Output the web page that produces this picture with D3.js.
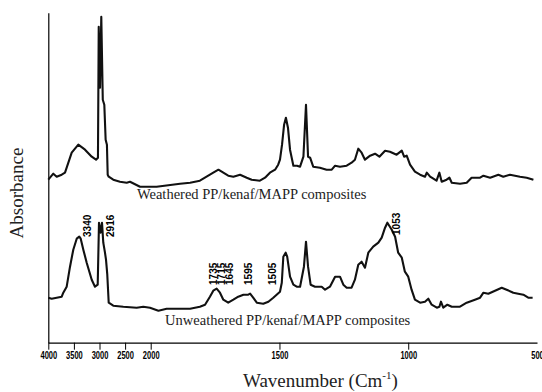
<!DOCTYPE html>
<html><head><meta charset="utf-8">
<script src="https://cdn.jsdelivr.net/npm/d3@7"></script>
<style>
body{margin:0;background:#fff;}
svg{display:block;}
</style></head>
<body>
<svg id="c" width="542" height="392"></svg>
<script>
// Weathered PP/kenaf/MAPP composites
const weatheredWn = [4000,3902,3836,3738,3674,3641,3543,3414,3283,3152,3068,3030,3015,2990,2965,2936,2906,2880,2855,2840,2820,2731,2600,2469,2404,2209,2000,1977,1886,1847,1809,1783,1757,1737,1718,1699,1679,1653,1627,1608,1576,1556,1537,1517,1505,1498,1490,1482,1475,1467,1459,1446,1432,1420,1407,1397,1389,1381,1369,1343,1317,1297,1284,1265,1239,1220,1207,1194,1181,1168,1148,1129,1112,1090,1071,1045,1025,1016,1006,993,974,954,935,928,915,890,879,870,851,840,831,799,773,754,721,708,682,650,631,605,566,540,514];
const weatheredAbs = [1.63,1.69,1.66,1.68,1.70,1.75,1.90,1.98,1.93,1.86,1.83,1.85,3.16,2.55,3.26,2.43,2.38,2.03,1.98,1.68,1.66,1.63,1.61,1.60,1.61,1.56,1.56,1.56,1.59,1.60,1.62,1.66,1.70,1.73,1.70,1.67,1.66,1.68,1.65,1.63,1.62,1.65,1.70,1.73,1.78,1.83,1.98,2.18,2.25,2.15,1.93,1.77,1.77,1.76,1.86,2.38,1.86,1.85,1.76,1.75,1.73,1.73,1.77,1.76,1.77,1.80,1.83,1.94,1.90,1.83,1.87,1.89,1.86,1.92,1.91,1.88,1.92,1.86,1.87,1.78,1.71,1.68,1.66,1.70,1.66,1.62,1.70,1.61,1.63,1.65,1.60,1.59,1.60,1.65,1.65,1.67,1.65,1.68,1.66,1.68,1.66,1.65,1.63];

// Unweathered PP/kenaf/MAPP composites
const unweatheredWn = [4000,3934,3836,3738,3707,3641,3576,3512,3445,3395,3367,3316,3250,3152,3088,3035,3010,2977,2951,2926,2893,2873,2848,2820,2731,2535,2274,2145,2014,1970,1938,1886,1847,1809,1789,1770,1757,1744,1731,1718,1699,1679,1660,1640,1621,1614,1602,1588,1563,1543,1524,1511,1498,1491,1485,1476,1470,1459,1446,1433,1420,1405,1397,1389,1379,1362,1336,1323,1304,1284,1265,1252,1239,1220,1207,1194,1181,1168,1155,1136,1116,1103,1090,1081,1064,1051,1039,1025,1013,1000,987,974,954,935,922,909,889,879,873,864,848,831,799,773,741,721,708,689,663,637,618,592,573,553,534,517];
const unweatheredAbs = [0.45,0.44,0.45,0.46,0.50,0.56,0.76,0.93,1.04,1.06,1.04,0.93,0.80,0.63,0.56,0.58,1.20,1.10,1.20,1.00,0.90,0.83,0.68,0.40,0.37,0.36,0.35,0.36,0.35,0.32,0.34,0.34,0.34,0.36,0.38,0.46,0.52,0.54,0.50,0.43,0.40,0.43,0.46,0.48,0.48,0.49,0.45,0.40,0.39,0.41,0.45,0.48,0.51,0.60,0.86,0.90,0.86,0.66,0.58,0.56,0.56,0.76,1.01,0.76,0.58,0.56,0.56,0.53,0.56,0.66,0.66,0.58,0.55,0.55,0.63,0.78,0.81,0.75,0.90,0.96,1.00,1.05,1.15,1.20,1.13,1.06,0.90,0.85,0.71,0.66,0.53,0.43,0.40,0.41,0.44,0.38,0.35,0.36,0.41,0.35,0.38,0.36,0.36,0.40,0.43,0.45,0.50,0.49,0.52,0.55,0.53,0.50,0.49,0.48,0.45,0.45];

// Peak annotations (text, wavenumber position, absorbance at top of label)
const peakText = ["3340","2916","1735","1715","1645","1595","1505","1053"];
const peakWn   = [3244,2789,1757,1727,1694,1619,1527,1044];
const peakAbs  = [1.28,1.28,0.80,0.80,0.80,0.80,0.80,1.30];

// Axis ticks
const tickValues = [4000,3500,3000,2500,2000,1500,1000,500];
const tickLabels = ["4000","3500","3000","2500","2000","1500","1000","500"];

// Series labels
const seriesNames = ["Weathered PP/kenaf/MAPP composites","Unweathered PP/kenaf/MAPP composites"];
const seriesLabelWn = [2268, 1944];
const seriesLabelAbs = [1.437, 0.177];

const svg = d3.select("#c");
const x = d3.scaleLinear().domain([4000,2000,500]).range([48.3,150.7,537]);
const y = d3.scaleLinear().domain([0,3.3]).range([342.7,12.7]);

// axes
const xAxis = d3.axisBottom(x).tickValues(tickValues)
  .tickFormat((d,i)=>tickLabels[i]).tickSize(7).tickSizeOuter(0).tickPadding(2.5);
const gx = svg.append("g").attr("transform",`translate(0,${y(0)})`).call(xAxis);
gx.select(".domain").attr("stroke","#000").attr("stroke-width",1.2);
gx.selectAll(".tick line").attr("stroke","#000").attr("stroke-width",1);
gx.selectAll(".tick").filter(d=>d===500).select("line").attr("opacity",0);
gx.selectAll(".tick text")
  .attr("font-family","'Liberation Sans Narrow','Arial Narrow','Liberation Sans',Arial,sans-serif")
  .attr("font-weight","bold").attr("font-size",10).attr("fill","#000")
  .attr("textLength",(d,i)=>tickLabels[i].length===4?16.7:12.5)
  .attr("lengthAdjust","spacingAndGlyphs");

const yAxis = d3.axisLeft(y).tickValues([]).tickSizeOuter(0);
const gy = svg.append("g").attr("transform",`translate(${x(4000)},0)`).call(yAxis);
gy.select(".domain").attr("stroke","#000").attr("stroke-width",1.2);

// lines
const line = d3.line().x(d=>x(d[0])).y(d=>y(d[1])).curve(d3.curveLinear);
const series = [d3.zip(weatheredWn, weatheredAbs), d3.zip(unweatheredWn, unweatheredAbs)];
svg.selectAll("path.spec").data(series).enter().append("path")
  .attr("class","spec").attr("d",line).attr("fill","none")
  .attr("stroke","#111").attr("stroke-width",2.1).attr("stroke-linejoin","round");

// series labels
svg.selectAll("text.sl").data(seriesNames).enter().append("text")
  .attr("class","sl").attr("x",(d,i)=>x(seriesLabelWn[i])).attr("y",(d,i)=>y(seriesLabelAbs[i]))
  .attr("font-family","'Liberation Serif','Times New Roman',serif").attr("font-size",14.5)
  .attr("fill","#222").text(d=>d);

// peak labels
svg.selectAll("text.pk").data(peakText).enter().append("text")
  .attr("class","pk")
  .attr("transform",(d,i)=>`translate(${x(peakWn[i])},${y(peakAbs[i])}) rotate(-90)`)
  .attr("text-anchor","end").attr("dy","0.35em")
  .attr("font-family","'Liberation Sans',Arial,sans-serif").attr("font-weight","bold")
  .attr("font-size",10).attr("fill","#000").text(d=>d);

// axis titles
const xt = svg.append("text").attr("x",243).attr("y",387)
  .attr("font-family","'Liberation Serif','Times New Roman',serif").attr("font-size",19).attr("fill","#222");
xt.append("tspan").text("Wavenumber (Cm");
xt.append("tspan").attr("font-size",11).attr("dy",-8).text("-1");
xt.append("tspan").attr("dy",8).text(")");

svg.append("text").attr("transform","translate(23,193) rotate(-90)")
  .attr("text-anchor","middle")
  .attr("font-family","'Liberation Serif','Times New Roman',serif").attr("font-size",19).attr("fill","#222")
  .text("Absorbance");
</script>
</body></html>
